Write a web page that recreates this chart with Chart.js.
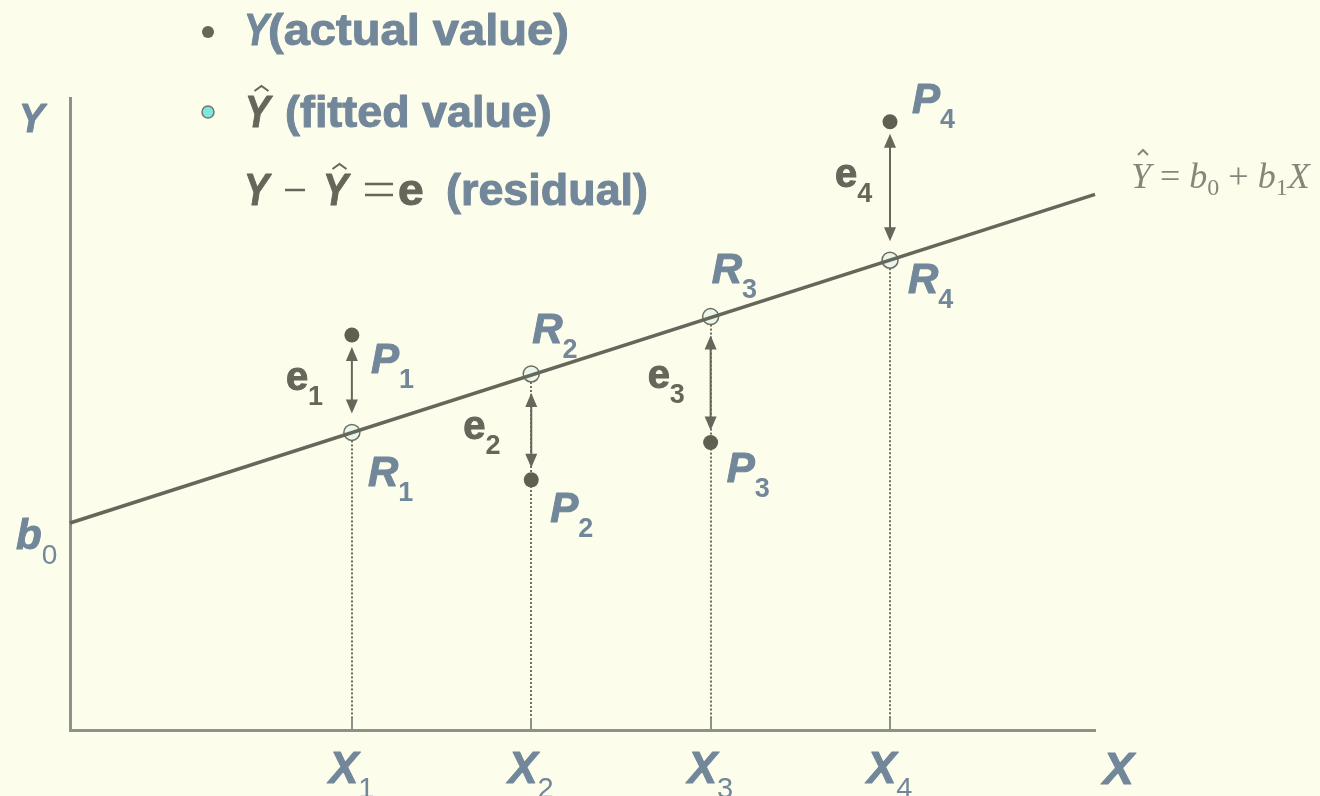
<!DOCTYPE html>
<html>
<head>
<meta charset="utf-8">
<script src="https://cdn.jsdelivr.net/npm/chart.js@4/dist/chart.umd.min.js"></script>
<style>
    html, body { margin: 0; padding: 0; background: #FDFDEB; }
    canvas { display: block; }
</style>
</head>
<body>
<canvas id="chart" width="1320" height="796"></canvas>
<script>
// Observations X1..X4 with actual and fitted values
const xValues = [2.75, 4.5, 6.25, 8.0];
const actualY = [7.50, 4.75, 5.46, 11.55];
const fittedY = [5.65, 6.76, 7.85, 8.92];
const pointSubs = ['1', '2', '3', '4'];

// Regression line end points (b0 at x = 0)
const lineX = [0, 10];
const lineY = [3.93, 10.17];

// Colours and fonts
const BLUE = '#72879A';
const DARK = '#66665A';
const AXIS = '#8C918A';
const FAMILY = '"Liberation Sans", Arial, sans-serif';
const LABEL_FONT = 'italic bold 42px ' + FAMILY;
const SUB_FONT = 'bold 27px ' + FAMILY;
const STRETCH = 1.0;

// Label offsets from each point, pixels (dx, dy to baseline)
const pOffsets = [[19, 38], [19, 42], [16, 40], [22, -9]];
const rOffsets = [[16, 54], [1, -31], [1, -34], [18, 33]];
const eOffsets = [[-66, 6], [-68, 12], [-63, 8], [-55, -4]];

function text(ctx, str, x, y, font, color, sx, heavy) {
    ctx.save();
    ctx.font = font;
    ctx.fillStyle = color;
    ctx.textAlign = 'left';
    ctx.textBaseline = 'alphabetic';
    ctx.translate(x, y);
    ctx.scale(sx || 1, 1);
    ctx.fillText(str, 0, 0);
    if (heavy) {
        ctx.strokeStyle = color;
        ctx.lineWidth = heavy;
        ctx.lineJoin = 'round';
        ctx.strokeText(str, 0, 0);
    }
    const w = ctx.measureText(str).width * (sx || 1);
    ctx.restore();
    return w;
}

// Letter with a subscript to its right
function subText(ctx, main, sub, x, y, color, mainFont, subFont) {
    const w = text(ctx, main, x, y, mainFont || LABEL_FONT, color, STRETCH, 1);
    text(ctx, sub, x + w, y + 15, subFont || SUB_FONT, color, 1);
}

// Small hat over a Y
function hat(ctx, cx, top, color, w) {
    ctx.save();
    ctx.strokeStyle = color;
    ctx.lineWidth = 2;
    ctx.beginPath();
    ctx.moveTo(cx - w / 2, top + 5);
    ctx.lineTo(cx, top);
    ctx.lineTo(cx + w / 2, top + 5);
    ctx.stroke();
    ctx.restore();
}

// Horizontal strokes for the minus and equals signs
function bars(ctx, x1, x2, ys, color) {
    ctx.save();
    ctx.strokeStyle = color;
    ctx.lineWidth = 2.5;
    ys.forEach((yy) => {
        ctx.beginPath();
        ctx.moveTo(x1, yy);
        ctx.lineTo(x2, yy);
        ctx.stroke();
    });
    ctx.restore();
}

function dot(ctx, x, y, r, fill, stroke) {
    ctx.save();
    ctx.beginPath();
    ctx.arc(x, y, r, 0, Math.PI * 2);
    ctx.fillStyle = fill;
    ctx.fill();
    if (stroke) {
        ctx.strokeStyle = stroke;
        ctx.lineWidth = 1.5;
        ctx.stroke();
    }
    ctx.restore();
}

function arrowHead(ctx, x, tipY, dir) {
    ctx.beginPath();
    ctx.moveTo(x, tipY);
    ctx.lineTo(x - 6, tipY - dir * 14);
    ctx.lineTo(x + 6, tipY - dir * 14);
    ctx.closePath();
    ctx.fill();
}

// Dotted drop lines and short ticks on the X axis
const dropLines = {
    id: 'dropLines',
    beforeDatasetsDraw(chart) {
        const { ctx, scales: { x, y } } = chart;
        const base = y.getPixelForValue(0);
        ctx.save();
        xValues.forEach((v, i) => {
            const px = Math.round(x.getPixelForValue(v));
            const top = y.getPixelForValue(fittedY[i]);
            ctx.strokeStyle = '#6E6E62';
            ctx.lineWidth = 2;
            ctx.setLineDash([2, 2]);
            ctx.beginPath();
            ctx.moveTo(px, top);
            ctx.lineTo(px, base - 12);
            ctx.stroke();
            ctx.setLineDash([]);
            ctx.strokeStyle = AXIS;
            ctx.beginPath();
            ctx.moveTo(px, base - 12);
            ctx.lineTo(px, base);
            ctx.stroke();
        });
        ctx.restore();
    }
};

// Double headed residual arrows between actual and fitted points
const residuals = {
    id: 'residuals',
    afterDatasetsDraw(chart) {
        const { ctx, scales: { x, y } } = chart;
        ctx.save();
        ctx.strokeStyle = DARK;
        ctx.fillStyle = DARK;
        ctx.lineWidth = 2;
        xValues.forEach((v, i) => {
            const px = x.getPixelForValue(v);
            const pY = y.getPixelForValue(actualY[i]);
            const rY = y.getPixelForValue(fittedY[i]);
            const dir = rY > pY ? 1 : -1;
            const a = pY + dir * 12;
            const b = rY - dir * 19;
            ctx.beginPath();
            ctx.moveTo(px, a + dir * 10);
            ctx.lineTo(px, b - dir * 10);
            ctx.stroke();
            arrowHead(ctx, px, a, -dir);
            arrowHead(ctx, px, b, dir);
        });
        ctx.restore();
    }
};

// Point names, axis names, legend and equation
const labels = {
    id: 'labels',
    afterDraw(chart) {
        const { ctx, scales: { x, y } } = chart;

        xValues.forEach((v, i) => {
            const px = x.getPixelForValue(v);
            const pY = y.getPixelForValue(actualY[i]);
            const rY = y.getPixelForValue(fittedY[i]);
            const s = pointSubs[i];
            subText(ctx, 'P', s, px + pOffsets[i][0], pY + pOffsets[i][1], BLUE);
            subText(ctx, 'R', s, px + rOffsets[i][0], rY + rOffsets[i][1], BLUE);
            subText(ctx, 'e', s, px + eOffsets[i][0], (pY + rY) / 2 + eOffsets[i][1], DARK,
                'bold 40px ' + FAMILY);
            // X tick labels
            subText(ctx, 'X', s, px - 23, 783, BLUE, 'italic bold 44px ' + FAMILY,
                '29px ' + FAMILY);
        });

        // Axis names
        text(ctx, 'X', 1103, 784, 'italic bold 44px ' + FAMILY, BLUE, 1.05, 1);
        text(ctx, 'Y', 19, 132, 'italic bold 40px ' + FAMILY, BLUE, 0.95, 1);
        const b0Y = y.getPixelForValue(lineY[0]);
        subText(ctx, 'b', '0', 16, b0Y + 26, BLUE, 'italic bold 42px ' + FAMILY, '28px ' + FAMILY);

        // Legend
        const LEG = 'bold 44px ' + FAMILY;
        const LEG_I = 'italic bold 44px ' + FAMILY;
        const YS = 0.85;
        dot(ctx, 208, 32, 6, DARK);
        let w = text(ctx, 'Y', 244, 45, LEG_I, BLUE, YS, 1);
        text(ctx, '(actual value)', 268, 45, LEG, BLUE, 1.07, 1);

        dot(ctx, 208, 112, 6, '#7FE6DD', '#77776A');
        w = text(ctx, 'Y', 245, 127, LEG_I, DARK, YS, 1);
        hat(ctx, 245 + w / 2 + 4, 86, DARK, 14);
        text(ctx, '(fitted value)', 285, 127, LEG, BLUE, 1.02, 1);

        text(ctx, 'Y', 244, 205, LEG_I, DARK, YS, 1);
        bars(ctx, 285, 305, [190], DARK);
        const yw = text(ctx, 'Y', 323, 205, LEG_I, DARK, YS, 1);
        hat(ctx, 323 + yw / 2 + 4, 164, DARK, 14);
        bars(ctx, 365, 393, [184, 195], DARK);
        text(ctx, 'e', 398, 205, LEG, DARK, 1.05, 1);
        text(ctx, '(residual)', 446, 205, LEG, BLUE, 1.02, 1);

        // Fitted line equation
        const SERIF = '"Liberation Serif", "Times New Roman", serif';
        const EQ = '#86867A';
        const EQ_I = 'italic 36px ' + SERIF;
        const EQ_S = '24px ' + SERIF;
        let ex = 1131;
        const ey = 188;
        const yhw = text(ctx, 'Y', ex, ey, EQ_I, EQ, 1);
        hat(ctx, ex + yhw / 2 + 2, 150, EQ, 10);
        ex += yhw;
        ex += text(ctx, ' = ', ex, ey, '36px ' + SERIF, EQ, 1);
        ex += text(ctx, 'b', ex, ey, EQ_I, EQ, 1);
        ex += text(ctx, '0', ex, ey + 7, EQ_S, EQ, 1);
        ex += text(ctx, ' + ', ex, ey, '36px ' + SERIF, EQ, 1);
        ex += text(ctx, 'b', ex, ey, EQ_I, EQ, 1);
        ex += text(ctx, '1', ex, ey + 7, EQ_S, EQ, 1);
        text(ctx, 'X', ex, ey, EQ_I, EQ, 1);
    }
};

function toPoints(xs, ys) {
    return xs.map((v, i) => ({ x: v, y: ys[i] }));
}

const chart = new Chart(document.getElementById('chart').getContext('2d'), {
    type: 'scatter',
    data: {
        datasets: [
            {
                label: 'Fitted line',
                data: toPoints(lineX, lineY),
                showLine: true,
                borderColor: DARK,
                borderWidth: 3.5,
                pointRadius: 0,
                clip: false
            },
            {
                label: 'Fitted value',
                data: toPoints(xValues, fittedY),
                pointRadius: 8,
                pointBackgroundColor: '#EAF6EC',
                pointBorderColor: '#6E6E60',
                pointBorderWidth: 1.5,
                clip: false
            },
            {
                label: 'Actual value',
                data: toPoints(xValues, actualY),
                pointRadius: 7.5,
                pointBackgroundColor: '#5F5F52',
                pointBorderWidth: 0,
                clip: false
            }
        ]
    },
    options: {
        responsive: false,
        animation: false,
        layout: { padding: { left: 70, right: 225, top: 98, bottom: 66 } },
        plugins: {
            legend: { display: false },
            tooltip: { enabled: false }
        },
        scales: {
            x: {
                type: 'linear',
                min: 0,
                max: 10,
                grid: { display: false, drawTicks: false },
                ticks: { display: false },
                border: { display: true, color: AXIS, width: 3 },
                afterFit: (scale) => { scale.height = 0; }
            },
            y: {
                type: 'linear',
                min: 0,
                max: 12,
                grid: { display: false, drawTicks: false },
                ticks: { display: false },
                border: { display: true, color: AXIS, width: 3 },
                afterFit: (scale) => { scale.width = 0; }
            }
        }
    },
    plugins: [dropLines, residuals, labels]
});
</script>
</body>
</html>
